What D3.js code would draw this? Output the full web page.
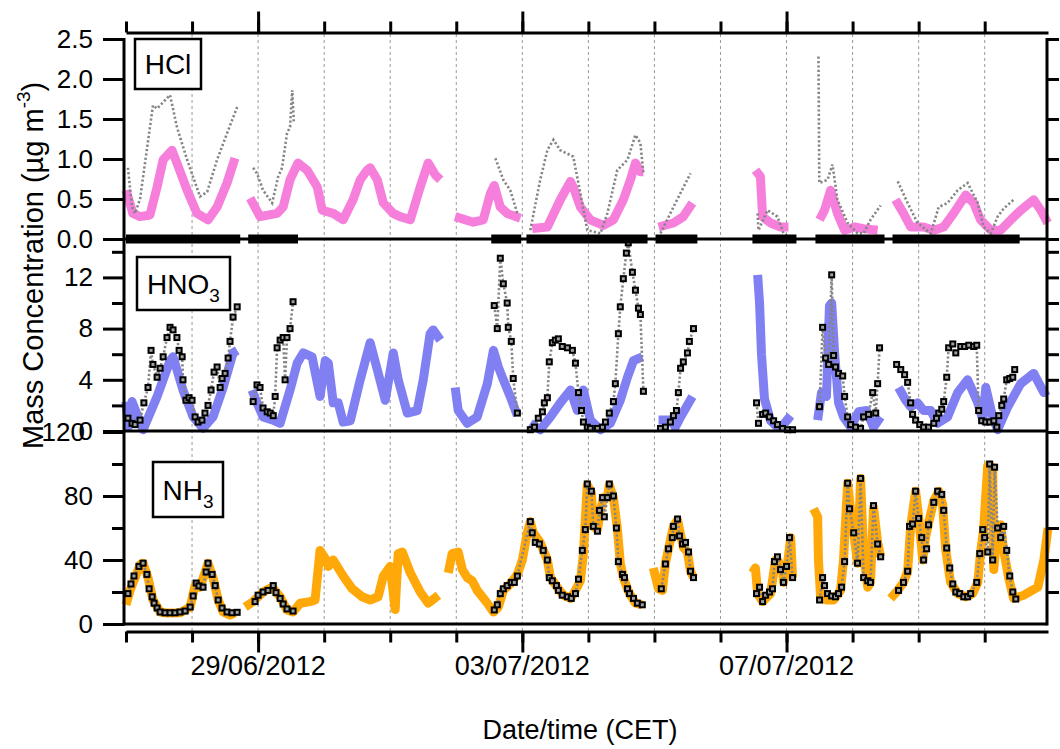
<!DOCTYPE html>
<html><head><meta charset="utf-8">
<script src="https://cdn.jsdelivr.net/npm/d3@7"></script>
<style>
body{margin:0;background:#fff}
text{font-family:"Liberation Sans",Arial,sans-serif;fill:#000}
</style></head>
<body><svg id="c" width="1060" height="749"></svg>
<script>
// ---------- DATA (hours since 27/06/2012 00:00 CET, value) ----------
const dateLabels = ["29/06/2012", "03/07/2012", "07/07/2012"];
const hclTicks = [0, 0.5, 1, 1.5, 2, 2.5];
const hno3Major = [0, 4, 8, 12];
const hno3Minor = [2, 6, 10, 14];
const nh3Major = [0, 40, 80, 120];
const nh3Minor = [20, 60, 100];

const hclModel = [[0,0.61],[2.5,0.32],[5.1,0.28],[8.7,0.30],[11.3,0.65],[13.5,0.99],[16.7,1.11],[18.5,0.95],[22.2,0.61],[25.8,0.32],[29.8,0.24],[33.1,0.40],[36.7,0.70],[39.6,1.01],null,
[45.1,0.51],[48.7,0.28],[54.9,0.32],[57.1,0.40],[59.6,0.74],[62.5,0.95],[65.8,0.86],[69.5,0.65],[71.3,0.36],[75.3,0.32],[78.9,0.24],[82.5,0.49],[85.1,0.74],[87.6,0.86],[88.7,0.89],[91.3,0.74],[93.5,0.45],[97.1,0.32],[99.6,0.28],[103.3,0.24],[106.9,0.65],[109.8,0.95],[112.4,0.80],[114.2,0.74],null,
[119.6,0.28],[126.2,0.21],[129.8,0.24],[132.4,0.57],[133.8,0.67],[136,0.40],[138.5,0.32],[143.3,0.26],null,
[147.6,0.13],[153.1,0.15],[157.8,0.49],[161.5,0.72],[162.5,0.65],[165.1,0.40],[168.7,0.24],[173.5,0.17],[177.1,0.24],[180.7,0.49],[183.3,0.74],[185.1,0.95],[186.9,0.84],[188,0.84],null,
[193.5,0.15],[198.9,0.20],[202.5,0.28],[205.8,0.45],null,
[228.7,0.86],[230.5,0.78],[231.3,0.28],[234.2,0.20],[237.8,0.15],[240.7,0.15],null,
[252,0.24],[253.8,0.36],[256,0.61],[258.5,0.32],[261.1,0.11],[264.7,0.15],[268,0.13],[273.1,0.11],null,
[279.6,0.49],[282.5,0.32],[285.1,0.15],[289.8,0.15],[293.5,0.11],[297.1,0.15],[300.7,0.32],[305.1,0.55],[308,0.45],[310.5,0.24],[314.2,0.11],[317.8,0.11],[321.5,0.24],[325.1,0.36],[329.8,0.49],[332.4,0.36],[334.9,0.20]];

const hclMeas = [[0.7,0.89],[2.2,0.40],[3.3,0.32],[5.1,0.50],[9.8,1.67],[11.3,1.63],[16,1.80],[18.5,1.40],[22.2,0.99],[26.9,0.53],[29.5,0.59],[33.1,0.99],[36.7,1.32],[40.4,1.65],null,
[46.2,0.89],[47.6,0.82],[49.8,0.61],[53.1,0.45],[55.3,0.78],[56.7,0.89],[58.5,1.32],[59.6,1.40],[60.4,1.86],[61,1.45],null,
[134.2,1.01],[137.1,0.74],[139.6,0.61],[142.2,0.32],null,
[146.9,0.11],[150.5,0.74],[153.1,1.11],[155.3,1.24],[157.8,1.11],[162.5,1.03],[165.1,0.57],[167.6,0.11],[172.4,0.07],[174.9,0.32],[178.5,0.86],[182.2,0.99],[185.1,1.30],[186.9,1.20],[188,0.82],null,
[194.2,0.07],[198.9,0.40],[205.1,0.82],null,
[229.5,0.32],[229.8,0.11],[233.1,0.36],[236.7,0.28],[238.9,0.07],[241.5,0.01],null,
[251.6,2.28],[251.9,0.70],[254.9,0.74],[256.7,0.93],[258.5,0.49],[262.2,0.20],[265.8,0.07],[268,0.07],[270.5,0.24],[274.2,0.42],null,
[280.4,0.72],[284,0.45],[287.6,0.20],[292.4,0.07],[295.3,0.40],[298.5,0.45],[302.2,0.61],[305.8,0.70],[309.5,0.45],[311.6,0.15],[314.2,0.07],[316.7,0.28],[318.9,0.38],[322.5,0.49]];

const hclCoverage = [[0,41.5],[44.4,62.5],[132.7,143.6],[145.5,189.5],[192.4,207.6],[227.6,243.6],[250.5,275.6],[278.5,324.7]];

const hno3Model = [[0,2.3],[0.7,0.3],[2.2,2.3],[6.2,0.1],[11.3,2.7],[16,5.5],[17.1,5.8],[20.7,3.2],[24.4,1.1],[28,0.2],[31.6,1.1],[35.3,3.4],[38.9,6.1],[40.4,6.3],null,
[45.8,3.2],[47.6,2.2],[49.8,1.1],[53.5,0.85],[56,0.6],[59.6,3.2],[62.2,5.3],[64.4,6.1],[67.6,5.8],[70.5,2.7],[72.4,5.5],[73.5,5.3],[75.3,2.2],[77.1,2.2],[78.9,0.7],[81.5,0.8],[85.1,4.0],[88.7,6.9],[91.3,4.8],[94.2,2.4],[97.1,6.1],[98.9,4.0],[102.2,1.4],[105.8,1.6],[108,4.0],[110.5,7.6],[111.6,7.9],[114.2,7.1],null,
[119.6,3.4],[120.7,1.6],[124,0.6],[127.6,1.1],[131.3,3.7],[133.5,6.3],[135.3,5.0],[137.1,4.0],[139.6,2.7],[142.2,1.2],null,
[146.9,0.6],[150.5,0.1],[154.2,1.1],[157.8,2.2],[161.5,3.2],[164,1.6],[166.2,3.2],[168.7,0.85],[172.4,0.1],[176,0.6],[179.6,2.4],[182.2,4.2],[184.4,5.5],[187.6,5.8],null,
[193.5,0.85],[197.8,0.85],[199.6,0.3],[201.5,1.1],[205.8,2.7],null,
[229.5,12.2],[230.2,10],[230.9,6],[232,2.5],[234.2,0.8],[236.7,0.3],[238.9,0.5],[241.5,1.2],null,
[251.3,0.85],[252.7,3.0],[254.5,2.7],[255.6,9.8],[256.4,10.0],[257.5,6.0],[258.9,2.2],[260.7,1.1],[263.3,0.3],[266.2,1.5],[269.1,1.6],[271.6,0.3],[274.2,1.1],null,
[280.7,3.4],[283.3,2.4],[285.1,1.9],[287.6,2.2],[289.8,1.6],[292.4,1.6],[294.9,0.6],[298.5,1.1],[302.2,3.0],[305.8,4.0],[309.5,2.2],[311.3,0.85],[312.4,3.4],[314.9,1.1],[316.7,0.1],[320.4,1.9],[325.1,3.7],[329.8,4.5],[333.5,3.0],[334.9,3.2]];

const hno3Meas = [[0.7,1.0],[2.2,0.6],[3.3,0.5],[5.1,0.85],[6.5,2.2],[8,3.4],[9.1,6.3],[9.8,5.2],[11.3,4.2],[12.4,4.9],[13.5,5.8],[14.9,7.3],[16,8.1],[17.1,7.9],[18.5,7.3],[19.3,6.3],[20.4,5.8],[20.7,4.0],[21.8,2.4],[22.9,2.6],[24,2.4],[25.1,1.1],[26.2,0.7],[27.6,0.85],[28.7,1.4],[29.8,2.0],[30.9,3.2],[32,4.6],[33.1,5.0],[34.2,3.4],[34.9,4.1],[36,4.5],[37.1,5.7],[37.8,7.0],[38.9,8.9],[40.4,9.7],null,
[46.2,2.3],[47.6,3.6],[48.7,3.4],[49.8,1.8],[51.3,1.5],[52.4,1.4],[53.5,1.2],[54.2,2.7],[54.9,6.5],[56,7.1],[57.1,7.3],[57.8,4.0],[58.5,7.3],[59.6,8.0],[60.7,10.1],null,
[133.8,9.8],[134.9,8.0],[136,13.5],[137.1,11.5],[138.5,10.0],[138.9,8.1],[140,7.0],[140.7,4.1],[142.2,1.4],null,
[146.9,0.1],[148.4,0.3],[149.8,1.0],[151.3,1.5],[152,2.2],[153.1,2.6],[153.8,5.4],[154.9,6.9],[156,7.1],[157.1,7.2],[158.5,6.6],[160.4,6.5],[162.2,6.3],[163.3,5.3],[164.4,3.0],[165.5,1.6],[166.2,0.7],[167.6,0.3],[168.7,0.2],[171.3,0.2],[173.1,0.3],[174.2,0.7],[175.6,1.4],[177.1,2.3],[177.8,3.7],[178.9,7.6],[179.6,9.7],[180.7,11.9],[181.8,13.9],[182.5,14.7],[184,12.4],[185.1,11.0],[186.2,9.6],[186.9,9.1],[188,3.1],null,
[194.2,0.2],[196,0.3],[197.8,0.7],[198.9,1.2],[200,1.6],[200.7,3.0],[201.5,4.9],[202.5,5.4],[204,6.1],[204.7,7.0],[206.2,8.0],null,
[229.1,2.2],[229.8,0.6],[231.3,1.3],[232.4,1.4],[233.8,1.1],[235.3,0.8],[236.7,0.5],[238.5,0.2],[240.4,0.1],[242.2,0.1],null,
[252,1.9],[253.1,8.1],[254.2,5.7],[255.3,5.2],[256.4,12.2],[257.1,5.9],[257.8,5.0],[258.9,4.5],[260.4,4.3],[261.1,2.7],[262.2,1.1],[263.3,0.5],[265.1,0.3],[266.9,0.2],[268,1.1],[269.8,1.3],[271.3,3.0],[272.4,1.4],[273.1,3.7],[273.8,6.5],null,
[280,5.2],[281.5,4.8],[282.9,4.4],[284,3.8],[285.1,2.2],[285.8,1.3],[286.9,0.85],[288.4,0.5],[289.8,0.3],[291.6,0.3],[293.5,0.6],[294.5,1.0],[295.3,1.4],[296.4,1.7],[297.1,2.3],[298.2,4.2],[298.9,6.5],[300.4,6.8],[301.5,6.1],[303.3,6.6],[304.7,6.6],[306.2,6.7],[308,6.6],[309.1,6.7],[309.8,1.6],[310.9,0.8],[312.4,0.7],[313.8,0.7],[315.3,0.8],[316.4,0.3],[317.1,1.2],[318.2,2.0],[318.9,2.5],[320,4.0],[321.1,4.1],[322.2,4.2],[322.9,4.8]];

const nh3Model = [[0,12],[1.5,21],[3.3,29],[5.1,37],[6.2,38],[8,29],[9.8,15],[12.4,7.5],[14.9,6.9],[19.6,7],[23.3,10.6],[25.1,24],[26.9,23],[28.7,32],[29.8,38],[31.6,29],[33.5,15],[35.3,7.5],[37.8,5.6],[39.6,6.9],null,
[43.3,10.6],[46.2,14],[49.8,20],[53.1,23],[56,17],[58.5,8.8],[60.7,7.5],[63.3,13],[66.9,14],[68.7,15],[70.5,46],[72.4,41],[73.5,36],[75.3,40],[78.9,30],[82.2,22],[85.8,17],[88.7,15],[91.6,17],[93.5,30],[96,36],[97.8,9],[98.9,44],[100.4,45],[103.3,32],[106.9,20],[109.8,13],[113.5,18],null,
[117.1,32],[118.5,44],[120.7,45],[122.2,34],[124,29],[125.8,27],[127.6,21],[131.3,13],[133.5,7.5],[135.3,10.6],[137.1,21],[139.6,25],[142.2,31],[144,40],[145.8,57],[146.9,64],[148,57],[150.5,51],[153.1,40],[154.2,29],[156.7,23],[158.9,18],[161.5,16],[163.3,21],[165.1,27],[166.2,44],[167.6,87],[169.1,82],[169.8,61],[171.3,59],[172.4,71],[173.5,79],[174.9,79],[175.6,87],[177.1,79],[178.5,60],[179.6,38],[180.7,29],[182.2,22],[183.3,18],[185.1,13],[187.6,12],null,
[191.6,35],[193.5,22],[194.9,21],[196,38],[197.1,47],[198.9,61],[200.4,65],[201.5,56],[202.5,48],[204,45],[205.1,33],[206.2,29],null,
[227.6,32],[228.7,35],[229.5,19],[231.3,14],[234.2,19],[236,40],[237.1,39],[238.5,34],[238.9,26],[240.4,38],[241.5,54],[242.2,29],null,
[249.8,72],[251.3,67],[251.6,40],[252.4,16],[254.9,15],[257.1,15],[259.6,21],[260.7,40],[262.2,88],[263.3,71],[264.4,57],[265.8,38],[266.9,91],[268,44],[269.5,23],[270.5,26],[271.6,73],[273.1,51],[274.2,42],null,
[277.8,16],[280.4,21],[282.5,26],[284,33],[285.1,61],[286.9,83],[288,67],[289.5,40],[290.5,54],[291.6,63],[293.5,77],[295.3,83],[296.7,75],[297.8,47],[299.6,26],[302.2,19],[305.1,17],[307.6,19],[309.5,26],[310.5,45],[311.6,59],[313.1,99],[314.9,98],[315.3,34],[316.7,61],[317.8,62],[318.9,46],[320.7,29],[322.5,16],[326.2,18],[331.3,23],[333.5,40],[335,60]];

const nh3Meas = [[0.7,19],[1.8,25],[2.9,30],[4.7,36],[6.2,38],[7.6,31],[8.4,22],[9.5,17],[10.2,13],[11.3,10],[12.4,7.5],[14.2,7],[16,7],[17.8,7],[19.6,7.5],[21.5,8.1],[23.3,10.6],[24.4,17.5],[25.5,25.6],[26.5,23.8],[28,23],[29.1,32.5],[29.8,38],[31.3,31],[32.4,24],[33.5,15],[34.9,10],[36.7,7.5],[38.5,7],[40.4,7.3],null,
[46.9,14],[48,18],[49.8,20],[51.6,21],[53.5,24],[54.5,19.6],[56,16],[57.1,12.5],[58.5,9.4],[60.7,8.1],null,
[133.8,8.8],[134.9,12],[136,19],[137.1,22],[138.5,24],[140,26],[141.1,26],[142.2,30],[146.9,64],[147.6,57],[148.7,51],[150.2,50],[151.6,46],[153.1,40],[153.8,29],[154.9,27],[156.4,24],[157.1,21],[158.5,18],[160.4,17],[161.8,16],[163.3,19],[164.4,28],[165.8,46],[166.9,59],[167.6,87.5],[169.1,83],[169.8,61],[171.3,58],[172,71],[173.1,79],[173.8,67],[174.9,79],[175.6,87.5],[177.1,80],[178.2,60],[178.9,39],[180.4,31],[181.1,29],[182.2,22],[182.9,19],[184.4,16],[185.8,13],[187.6,12],null,
[194.5,22],[196,37.5],[197.1,47],[198.5,54],[198.9,61],[200.4,65.6],[201.1,55],[202.2,50],[203.3,51],[204.4,45],[205.1,33],[206.2,29],null,
[229.1,19],[230.2,23],[231.3,14],[232.4,18],[233.8,20],[234.9,22],[235.6,39],[236.7,42],[237.8,34],[238.9,26],[240,36],[241.1,54],[242.2,29],null,
[252,15],[253.1,29],[253.8,24],[254.9,19],[256.4,17.5],[257.8,17],[258.9,19],[260,23],[261.1,39],[262.2,88],[262.9,72],[264.4,57],[265.8,38],[266.9,91],[268,29],[269.5,27],[270.5,26],[271.6,74],[273.1,50],[274.2,42],null,
[280.7,21],[282.5,26],[284,33],[284.7,61],[285.8,62.5],[286.9,83],[288,66],[289.1,54],[289.8,40],[290.9,47],[291.6,62],[293.5,76],[294.9,83],[296.4,81],[297.1,71],[298.2,47.5],[299.3,35],[300.4,25],[301.5,20],[302.9,19],[304.4,17],[305.8,17],[306.9,19],[309.1,26],[310.2,44],[311.3,59],[312,54],[313.1,45],[313.8,100],[314.9,40],[315.6,98],[316.7,60],[317.8,54],[318.9,61],[320,46],[321.1,30],[322.2,20],[323.3,15.6]];

// ---------- DRAWING ----------
const START = new Date(2012, 5, 27, 0, 0, 0);
const hrs = h => new Date(START.getTime() + h * 3600000);
const parseD = d3.timeParse("%d/%m/%Y");
const majorDates = dateLabels.map(parseD);
const x = d3.scaleTime().domain([hrs(0), hrs(335)]).range([126, 1048]);
const svg = d3.select("#c");
const dayTicks = d3.timeDay.range(hrs(0), hrs(336));

const XL = 124, XR = 1047;

// vertical dotted grid
svg.append("g").selectAll("line").data(dayTicks.slice(1)).join("line")
  .attr("x1", d => x(d)).attr("x2", d => x(d)).attr("y1", 34).attr("y2", 631)
  .attr("stroke", "#9a9a9a").attr("stroke-width", 1).attr("stroke-dasharray", "3,3");

const panels = [
  {name: "HCl", sub: "", y: d3.scaleLinear().domain([0, 2.5]).range([239, 39]),
   major: hclTicks, minor: [], right: hclTicks, fmt: d3.format(".1f"),
   model: hclModel, meas: hclMeas, color: "#f67fdc", squares: false,
   box: [135, 39, 66, 50]},
  {name: "HNO", sub: "3", y: d3.scaleLinear().domain([0, 15]).range([431, 239]),
   major: hno3Major, minor: hno3Minor, right: hno3Minor.concat(hno3Major.slice(1)), fmt: d3.format("d"),
   model: hno3Model, meas: hno3Meas, color: "#8080f2", squares: true,
   box: [137, 257, 93, 53]},
  {name: "NH", sub: "3", y: d3.scaleLinear().domain([0, 120]).range([624, 432]),
   major: nh3Major, minor: nh3Minor, right: nh3Minor.concat(nh3Major.slice(1)), fmt: d3.format("d"),
   model: nh3Model, meas: nh3Meas, color: "#ffa80a", squares: true,
   box: [153, 462, 70, 55]}
];

panels.forEach((p, i) => {
  const line = d3.line().defined(d => d != null).x(d => x(hrs(d[0]))).y(d => p.y(d[1]));
  svg.append("path").datum(p.model).attr("d", line)
    .attr("fill", "none").attr("stroke", p.color).attr("stroke-width", 9)
    .attr("stroke-linejoin", "round").attr("stroke-linecap", "butt");
  svg.append("path").datum(p.meas).attr("d", line)
    .attr("fill", "none").attr("stroke", "#858585").attr("stroke-width", 2.6)
    .attr("stroke-dasharray", "2.2,2.2");
  if (p.squares) {
    svg.append("g").selectAll("rect").data(p.meas.filter(d => d != null)).join("rect")
      .attr("x", d => x(hrs(d[0])) - 2.5).attr("y", d => p.y(d[1]) - 2.5)
      .attr("width", 5).attr("height", 5)
      .attr("fill", "#a0a0a0").attr("stroke", "#000").attr("stroke-width", 2);
  }
  // left axis major
  const gL = svg.append("g").attr("transform", `translate(${XL},0)`)
    .call(d3.axisLeft(p.y).tickValues(p.major).tickSize(21).tickPadding(10).tickFormat(p.fmt));
  gL.select(".domain").remove();
  gL.selectAll("line").attr("stroke", "#000").attr("stroke-width", 3);
  gL.selectAll("text").attr("font-size", 26).style("font-family", '"Liberation Sans",Arial,sans-serif')
    .attr("fill", "#000");
  if (i === 2) gL.selectAll("text").filter(d => d === 120).attr("dx", -8);
  if (p.minor.length) {
    const gm = svg.append("g").attr("transform", `translate(${XL},0)`)
      .call(d3.axisLeft(p.y).tickValues(p.minor).tickSize(12).tickFormat(""));
    gm.select(".domain").remove();
    gm.selectAll("line").attr("stroke", "#000").attr("stroke-width", 3);
  }
  const gR = svg.append("g").attr("transform", `translate(${XR},0)`)
    .call(d3.axisRight(p.y).tickValues(p.right).tickSize(12).tickFormat(""));
  gR.select(".domain").remove();
  gR.selectAll("line").attr("stroke", "#000").attr("stroke-width", 3);
  // bottom border of panel
  svg.append("line").attr("x1", XL).attr("x2", XR).attr("y1", p.y(0)).attr("y2", p.y(0))
    .attr("stroke", "#000").attr("stroke-width", 3);
});

// HCl coverage bars
const yH = panels[0].y;
svg.append("g").selectAll("rect").data(hclCoverage).join("rect")
  .attr("x", d => x(hrs(d[0]))).attr("width", d => x(hrs(d[1])) - x(hrs(d[0])))
  .attr("y", yH(0) - 4.5).attr("height", 9).attr("fill", "#000");

// left and right axis lines
svg.append("line").attr("x1", XL).attr("x2", XL).attr("y1", 38).attr("y2", 625.5)
  .attr("stroke", "#000").attr("stroke-width", 3);
svg.append("line").attr("x1", XR).attr("x2", XR).attr("y1", 38).attr("y2", 625.5)
  .attr("stroke", "#000").attr("stroke-width", 3);

// label boxes
panels.forEach(p => {
  const [bx, by, bw, bh] = p.box;
  svg.append("rect").attr("x", bx).attr("y", by).attr("width", bw).attr("height", bh)
    .attr("fill", "#fff").attr("stroke", "#000").attr("stroke-width", 2.5);
  const t = svg.append("text").attr("x", bx + bw / 2).attr("y", by + bh / 2 + 10)
    .attr("text-anchor", "middle").attr("font-size", 28).text(p.name);
  if (p.sub) t.append("tspan").attr("font-size", 19).attr("dy", 8).text(p.sub);
});

// date axes
function dateAxis(gen, y) {
  const g1 = svg.append("g").attr("transform", `translate(0,${y})`)
    .call(gen(x).tickValues(dayTicks).tickSize(11).tickSizeOuter(0).tickFormat(""));
  g1.select(".domain").attr("stroke-width", 3);
  g1.selectAll("line").attr("stroke-width", 3);
  const g2 = svg.append("g").attr("transform", `translate(0,${y})`)
    .call(gen(x).tickValues(majorDates).tickSize(21).tickSizeOuter(0).tickFormat(""));
  g2.select(".domain").remove();
  g2.selectAll("line").attr("stroke-width", 3);
}
dateAxis(d3.axisTop, 32.5);
dateAxis(d3.axisBottom, 631.5);

svg.append("g").selectAll("text").data(majorDates).join("text")
  .attr("x", d => x(d)).attr("y", 675).attr("text-anchor", "middle").attr("font-size", 27)
  .text(d => d3.timeFormat("%d/%m/%Y")(d));

svg.append("text").attr("x", 580).attr("y", 739).attr("text-anchor", "middle")
  .attr("font-size", 27).text("Date/time (CET)");

const yt = svg.append("text").attr("transform", "translate(43,449) rotate(-90)")
  .attr("text-anchor", "start").attr("font-size", 29).text("Mass Concentration (µg m");
yt.append("tspan").attr("font-size", 19).attr("dy", -13).text("-3");
yt.append("tspan").attr("dy", 13).text(")");
</script>
</body></html>
